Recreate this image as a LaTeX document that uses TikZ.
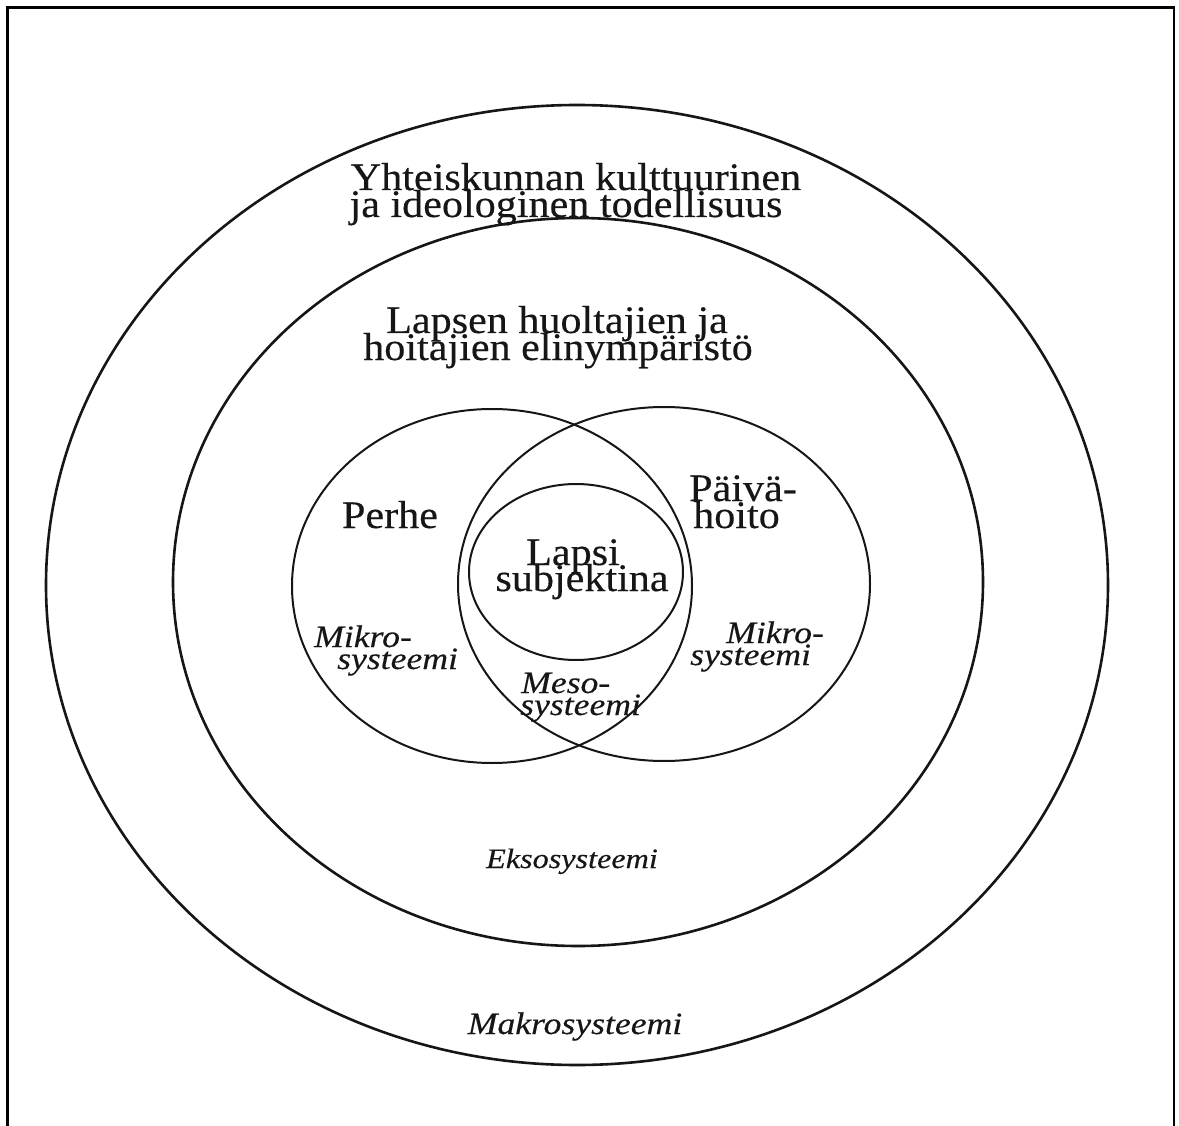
\documentclass[tikz,border=0pt]{standalone}
\usepackage{fontspec}
\setmainfont{Liberation Serif}
\newfontfamily\figfont[FakeStretch=1.08,FakeBold=0.35]{Liberation Serif}
\newfontfamily\itfont[FakeStretch=1.15,FakeBold=0.3]{Liberation Serif}
\definecolor{ink}{HTML}{161616}
\begin{document}
\begin{tikzpicture}[x=1pt,y=-1pt,
  ring/.style={draw=ink,line width=2.6pt},
  venn/.style={draw=ink,line width=2.0pt},
  frame/.style={draw=black,line width=2.8pt},
  lab/.style={inner sep=0pt,text=ink,anchor=base,font={\figfont\fontsize{39}{39}\selectfont}},
  labw/.style={lab,anchor=base west},
  ital/.style={inner sep=0pt,text=ink,anchor=base west,font={\itfont\itshape\fontsize{31}{31}\selectfont}},
  italc/.style={ital,anchor=base}]
\useasboundingbox (0,0) rectangle (1179,1126);
\fill[white] (0,0) rectangle (1179,1126);
% frame (open at the bottom)
\coordinate (fbl) at (7.5,1140);
\coordinate (ftl) at (7.5,7.5);
\coordinate (ftr) at (1174,7.5);
\coordinate (fbr) at (1174,1140);
\draw[frame] (fbl) -- (ftl) -- (ftr) -- (fbr);
% nested systems
\draw[ring] (577,585) ellipse [x radius=531pt, y radius=480pt];
\draw[ring] (578,582) ellipse [x radius=405pt, y radius=364pt];
\draw[venn] (492,586) ellipse [x radius=200pt, y radius=177pt];
\draw[venn] (664,584) ellipse [x radius=206pt, y radius=177pt];
\draw[venn] (576,572) ellipse [x radius=107pt, y radius=88pt];
% texts
\node[lab] (y1) at (576,190) {Yhteiskunnan kulttuurinen};
\node[lab] (y2) at (566,217) {ja ideologinen todellisuus};
\node[lab] (h1) at (557,333) {Lapsen huoltajien ja};
\node[lab] (h2) at (558,360) {hoitajien elinympäristö};
\node[lab] (perhe) at (390,528) {Perhe};
\node[labw] (pv1) at (689,501) {Päivä-};
\node[labw] (pv2) at (693,528) {hoito};
\node[lab] (l1) at (573,565) {Lapsi};
\node[lab] (l2) at (582,591) {subjektina};
\node[ital] (mk1) at (314,647) {Mikro-};
\node[ital] (mk2) at (337,669) {systeemi};
\node[ital] (mr1) at (726,643) {Mikro-};
\node[ital] (mr2) at (690,665) {systeemi};
\node[ital] (ms1) at (521,693) {Meso-};
\node[ital] (ms2) at (520,715) {systeemi};
\node[italc,font={\itfont\itshape\fontsize{28}{28}\selectfont}] (eks) at (572,868) {Eksosysteemi};
\node[italc,font={\itfont\itshape\fontsize{31}{31}\selectfont}] (mak) at (575,1034) {Makrosysteemi};
\end{tikzpicture}
\end{document}
